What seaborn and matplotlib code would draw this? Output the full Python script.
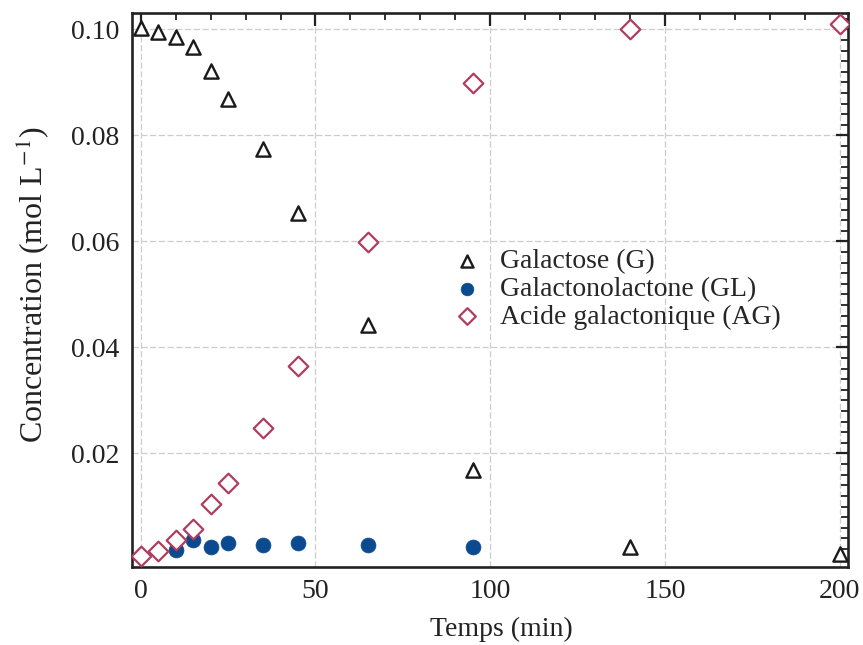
import matplotlib
matplotlib.use("Agg")
import matplotlib.pyplot as plt
import seaborn as sns
import pandas as pd
from matplotlib.ticker import MultipleLocator, FixedLocator

# Galactose (G)
t_g = [0, 5, 10, 15, 20, 25, 35, 45, 65, 95, 140, 200]
c_g = [0.1002, 0.0995, 0.0985, 0.0967, 0.0921, 0.0869, 0.0774, 0.0653, 0.0443, 0.0168, 0.0023, 0.0011]

# Galactonolactone (GL)
t_gl = [10, 15, 20, 25, 35, 45, 65, 95]
c_gl = [0.0018, 0.0036, 0.0024, 0.0031, 0.0027, 0.0031, 0.0027, 0.0024]

# Acide galactonique (AG)
t_ag = [0, 5, 10, 15, 20, 25, 35, 45, 65, 95, 140, 200]
c_ag = [0.0006, 0.0017, 0.0037, 0.0057, 0.0105, 0.0145, 0.0248, 0.0365, 0.0599, 0.0898, 0.1001, 0.1011]

labels = ["Galactose (G)", "Galactonolactone (GL)", "Acide galactonique (AG)"]
y_ticks = [0.02, 0.04, 0.06, 0.08, 0.10]
y_ticklabels = ["0.02", "0.04", "0.06", "0.08", "0.10"]
x_ticks = [0, 50, 100, 150, 200]

sns.set_theme(style="white")
plt.rcParams["font.family"] = ["Liberation Serif", "DejaVu Serif"]
plt.rcParams["mathtext.fontset"] = "stix"

fig = plt.figure(figsize=(8.63, 6.45), dpi=100)
ax = fig.add_axes([0.153, 0.121, 0.830, 0.859])

df_g = pd.DataFrame({"t": t_g, "c": c_g})
df_gl = pd.DataFrame({"t": t_gl, "c": c_gl})
df_ag = pd.DataFrame({"t": t_ag, "c": c_ag})

sns.scatterplot(data=df_g, x="t", y="c", ax=ax, marker="^", s=105,
                facecolor="white", edgecolor="#1a1a1a", linewidth=1.7,
                label=labels[0], zorder=3)
sns.scatterplot(data=df_gl, x="t", y="c", ax=ax, marker="o", s=115,
                color="#0b4a8e", edgecolor="#0b4a8e", linewidth=0.5,
                label=labels[1], zorder=3)
sns.scatterplot(data=df_ag, x="t", y="c", ax=ax, marker="D", s=100,
                facecolor="white", edgecolor="#b03c5e", linewidth=1.6,
                label=labels[2], zorder=3)

ax.set_xlim(-2.5, 202.5)
ax.set_ylim(-0.0014, 0.1031)

ax.xaxis.set_major_locator(FixedLocator(x_ticks))
ax.xaxis.set_minor_locator(MultipleLocator(10))
ax.yaxis.set_major_locator(FixedLocator(y_ticks))
ax.set_yticklabels(y_ticklabels)
ax.yaxis.set_minor_locator(MultipleLocator(0.002))

ax.tick_params(which="both", direction="in", top=True, right=True,
               labelsize=20, colors="#222222")
ax.tick_params(which="major", length=9, width=1.6)
ax.tick_params(which="minor", length=5, width=1.3)
ax.tick_params(axis="x", pad=9)
ax.tick_params(axis="y", pad=9)

ax.grid(True, which="major", color="#cdcdcd", linestyle=(0, (5, 2)), linewidth=0.9)
ax.set_axisbelow(True)

for sp in ax.spines.values():
    sp.set_color("#222222")
    sp.set_linewidth(1.9)

ax.set_xlabel("Temps (min)", fontsize=20, color="#222222")
ax.xaxis.set_label_coords(0.515, -0.090)
ax.set_ylabel(r"Concentration (mol L$^{-1}$)", fontsize=23, color="#222222")
ax.yaxis.set_label_coords(-0.113, 0.509)

ax.legend(loc="upper left", bbox_to_anchor=(0.429, 0.574), frameon=False,
          fontsize=20, handletextpad=0.2, labelspacing=0.08,
          borderpad=0, borderaxespad=0, markerscale=0.85)

fig.savefig("out.png", dpi=100)
